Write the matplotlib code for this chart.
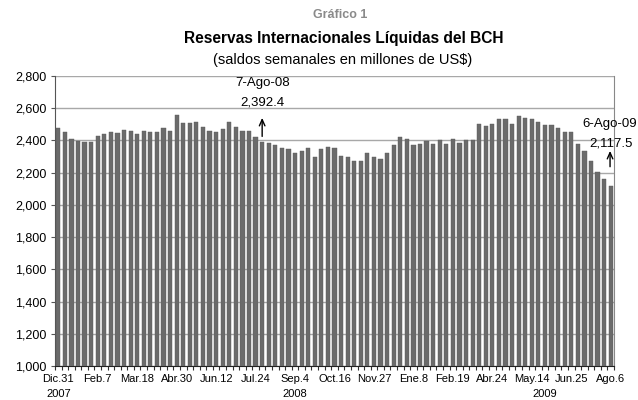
import matplotlib
matplotlib.use("Agg")
import matplotlib.pyplot as plt
import numpy as np

plt.rcParams['font.family'] = ['Liberation Sans', 'DejaVu Sans']

values = [2475, 2450, 2412, 2394, 2388, 2388, 2425, 2437, 2450, 2444,
          2462, 2456, 2437, 2456, 2450, 2450, 2475, 2456, 2556, 2506,
          2506, 2512, 2481, 2456, 2450, 2469, 2512, 2481, 2456, 2456,
          2419, 2392.4, 2385, 2369, 2356, 2344, 2319, 2337, 2350, 2300,
          2344, 2362, 2350, 2306, 2300, 2275, 2275, 2319, 2300, 2287,
          2325, 2369, 2419, 2412, 2369, 2375, 2394, 2381, 2400, 2381,
          2412, 2387, 2400, 2400, 2500, 2487, 2500, 2531, 2531, 2500,
          2550, 2537, 2531, 2512, 2494, 2494, 2475, 2450, 2450, 2375,
          2337, 2275, 2206, 2162, 2117.5]
tick_labels = ["Dic.31", "Feb.7", "Mar.18", "Abr.30", "Jun.12", "Jul.24", "Sep.4",
               "Oct.16", "Nov.27", "Ene.8", "Feb.19", "Abr.24", "May.14", "Jun.25", "Ago.6"]
year_labels = ["2007", "2008", "2009"]
year_pos = [0, 36, 74]
y_ticks = list(range(1000, 2801, 200))

fig = plt.figure(figsize=(6.38, 4.0), dpi=100)
ax = fig.add_axes([55/638, 1-366/400, (614-55)/638, (366-76)/400])

x = np.arange(len(values))
ax.bar(x, values, width=0.64, color='#6b6b6b', edgecolor='#5a5a5a', linewidth=0.3, zorder=3)

ax.set_xlim(-0.5, len(values)-0.5)
ax.set_ylim(1000, 2800)
ax.set_yticks(y_ticks)
ax.set_yticklabels([f"{v:,}" for v in y_ticks], fontsize=9)
ax.yaxis.grid(True, color='#a8a8a8', linewidth=1.0, zorder=0)
ax.set_axisbelow(True)

# category boundary ticks
ax.set_xticks(np.arange(-0.5, len(values), 1.0), minor=True)
ax.tick_params(axis='x', which='minor', length=3, width=0.8, color='#333333')
ax.set_xticks(np.arange(0, len(values), 6))
ax.set_xticklabels(tick_labels, fontsize=8)
ax.tick_params(axis='x', which='major', length=0, pad=6)
ax.tick_params(axis='y', length=3, width=0.8, color='#555555', pad=3)

ax.spines['top'].set_visible(False)
ax.spines['right'].set_color('#888888')
ax.spines['left'].set_color('#555555')
ax.spines['bottom'].set_color('#222222')

for lab, p in zip(year_labels, year_pos):
    ax.annotate(lab, xy=(p, 0), xycoords=('data', 'figure fraction'),
                xytext=(0, 1), textcoords='offset pixels', ha='center', va='bottom',
                fontsize=8, annotation_clip=False)

arrow = dict(arrowstyle='->,head_length=0.45,head_width=0.2', color='black', lw=1.0,
             shrinkA=0, shrinkB=0)

# annotations
ax.text(31, 2756, "7-Ago-08", ha='center', va='center', fontsize=9.5)
ax.text(31, 2637, "2,392.4", ha='center', va='center', fontsize=9.5)
ax.annotate("", xy=(31, 2540), xytext=(31, 2425), arrowprops=arrow, annotation_clip=False)
ax.text(83.8, 2500, "6-Ago-09", ha='center', va='center', fontsize=9.5, clip_on=False)
ax.text(84.1, 2381, "2,117.5", ha='center', va='center', fontsize=9.5, clip_on=False)
ax.annotate("", xy=(83.9, 2335), xytext=(83.9, 2237), arrowprops=arrow, annotation_clip=False)

fig.text(340/638, 1-15/400, "Gráfico 1", ha='center', va='center', fontsize=9,
         fontweight='bold', color='#8a8a8a')
fig.text(344/638, 1-39/400, "Reservas Internacionales Líquidas del BCH", ha='center',
         va='center', fontsize=11.2, fontweight='bold')
fig.text(343/638, 1-60/400, "(saldos semanales en millones de US$)", ha='center',
         va='center', fontsize=10.5)

fig.savefig("out.png", dpi=100)
